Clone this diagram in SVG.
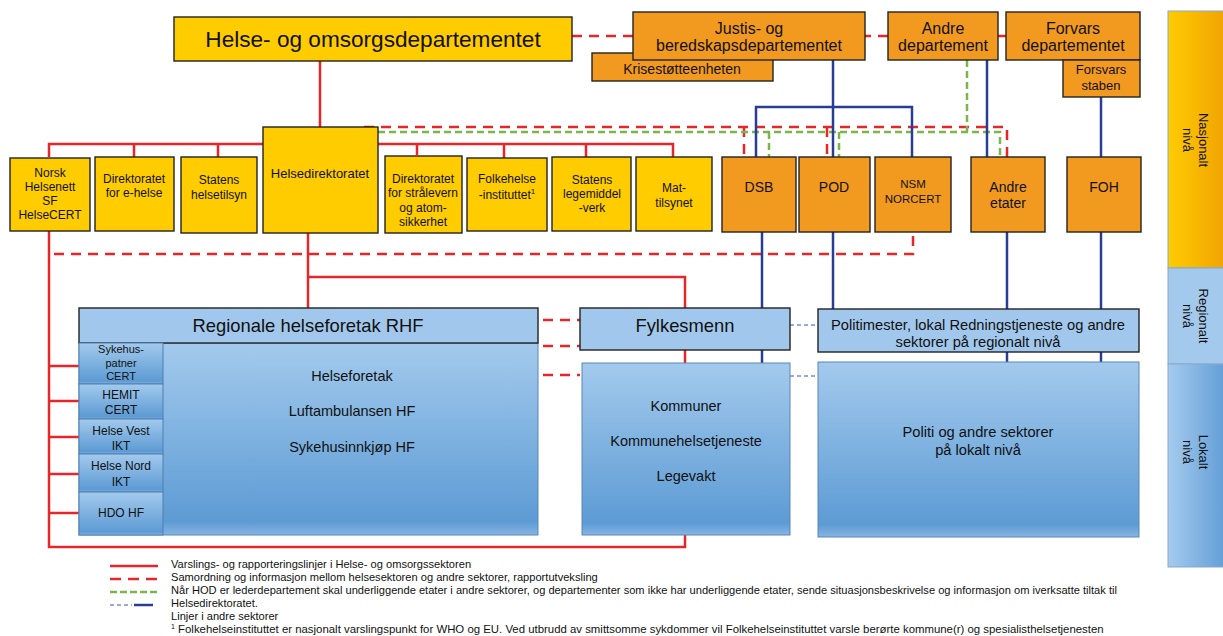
<svg xmlns="http://www.w3.org/2000/svg" width="1223" height="636" viewBox="0 0 1223 636">
<defs>
<linearGradient id="gBlue" x1="0" y1="0" x2="0" y2="1">
<stop offset="0" stop-color="#a3caed"/><stop offset="0.93" stop-color="#5d9bd4"/><stop offset="1" stop-color="#86b5e2"/>
</linearGradient>
<linearGradient id="gNas" x1="0" y1="0" x2="1" y2="0">
<stop offset="0" stop-color="#ffcc00"/><stop offset="1" stop-color="#f0a104"/>
</linearGradient>
<linearGradient id="gLok" x1="0" y1="0" x2="1" y2="0">
<stop offset="0" stop-color="#a5cbee"/><stop offset="1" stop-color="#5f9cd5"/>
</linearGradient>
<style>
text{font-family:"Liberation Sans",Arial,sans-serif;fill:#111;text-anchor:middle;dominant-baseline:central}
.y{fill:#ffcc00;stroke:#222;stroke-width:1.4}
.o{fill:#f29a1f;stroke:#222;stroke-width:1.4}
.lb{fill:#a1c8ec;stroke:#222;stroke-width:1.4}
.gb{fill:url(#gBlue);stroke:#5a86b6;stroke-width:1}
.sub{fill:url(#gBlue);stroke:#4f7fb0;stroke-width:1}
.r{stroke:#e8262a;stroke-width:2.5;fill:none}
.rd{stroke:#e8262a;stroke-width:2.5;fill:none;stroke-dasharray:10 7}
.gd{stroke:#7ab648;stroke-width:2.5;fill:none;stroke-dasharray:7 4}
.b{stroke:#283d96;stroke-width:2.5;fill:none}
.bd{stroke:#3b56a8;stroke-width:1;fill:none;stroke-dasharray:4 3}
.f12{font-size:12px}.f13{font-size:13px}.f14{font-size:14px}.f15{font-size:15px}.f16{font-size:16px}
.fb{font-size:14.5px}.fp{font-size:14.7px}
.lg{font-size:11.1px;text-anchor:start}
</style>
</defs>
<rect width="1223" height="636" fill="#fff"/>

<g id="connectors">
<line class="rd" x1="572" y1="36" x2="1006" y2="36"/>
<line class="r" x1="320" y1="60" x2="320" y2="127"/>
<polyline class="r" points="49,157 49,144 263,144"/>
<line class="r" x1="134" y1="144" x2="134" y2="157"/>
<line class="r" x1="218" y1="144" x2="218" y2="157"/>
<polyline class="r" points="378,144 673,144 673,157"/>
<line class="r" x1="417" y1="144" x2="417" y2="155"/>
<line class="r" x1="504" y1="144" x2="504" y2="158"/>
<line class="r" x1="586" y1="144" x2="586" y2="157"/>
<polyline class="rd" points="364,127 1007,127 1007,157"/>
<line class="rd" x1="744" y1="127" x2="744" y2="157"/>
<line class="rd" x1="827" y1="127" x2="827" y2="157"/>
<polyline class="gd" points="378,132 1000,132 1000,157"/>
<line class="gd" x1="967" y1="60" x2="967" y2="132"/>
<line class="gd" x1="769" y1="132" x2="769" y2="157"/>
<line class="gd" x1="839" y1="132" x2="839" y2="157"/>
<line class="b" x1="833" y1="60" x2="833" y2="157"/>
<polyline class="b" points="756,157 756,107 912,107 912,157"/>
<line class="b" x1="987" y1="60" x2="987" y2="157"/>
<line class="b" x1="1101" y1="97" x2="1101" y2="157"/>
<polyline class="rd" points="54,254 913,254 913,232"/>
<line class="r" x1="308" y1="233" x2="308" y2="308"/>
<polyline class="r" points="308,277 685,277 685,308"/>
<line class="r" x1="685" y1="350" x2="685" y2="363"/>
<polyline class="r" points="49,231 49,547 685,547 685,535"/>
<line class="r" x1="49" y1="366" x2="79" y2="366"/>
<line class="r" x1="49" y1="401" x2="79" y2="401"/>
<line class="r" x1="49" y1="437" x2="79" y2="437"/>
<line class="r" x1="49" y1="474" x2="79" y2="474"/>
<line class="r" x1="49" y1="513" x2="79" y2="513"/>
<line class="b" x1="762" y1="232" x2="762" y2="308"/>
<line class="b" x1="762" y1="350" x2="762" y2="363"/>
<line class="b" x1="833" y1="232" x2="833" y2="309"/>
<line class="b" x1="1007" y1="232" x2="1007" y2="309"/>
<line class="b" x1="1007" y1="352" x2="1007" y2="362"/>
<line class="b" x1="1101" y1="232" x2="1101" y2="309"/>
<line class="b" x1="1101" y1="352" x2="1101" y2="362"/>
<line class="rd" x1="543" y1="320" x2="580" y2="320"/>
<line class="rd" x1="543" y1="346" x2="580" y2="346"/>
<line class="rd" x1="543" y1="375" x2="580" y2="375"/>
<line class="bd" x1="790" y1="325" x2="818" y2="325"/>
<line class="bd" x1="790" y1="376" x2="818" y2="376"/>
</g>

<g id="hod"><rect class="y" x="174" y="17" width="398" height="44"/><text x="373" y="39" style="font-size:22.6px">Helse- og omsorgsdepartementet</text></g>
<g id="krise"><rect class="o" x="592" y="53" width="181" height="28"/><text class="f14" x="682" y="69">Krisestøtteenheten</text></g>
<g id="justis"><rect class="o" x="633" y="12" width="232" height="48"/><text class="f16" x="749" y="28">Justis- og</text><text class="f16" x="749" y="45">beredskapsdepartementet</text></g>
<g id="andredep"><rect class="o" x="888" y="12" width="110" height="48"/><text class="f16" x="943" y="28">Andre</text><text class="f16" x="943" y="45">departement</text></g>
<g id="forsvarsdep"><rect class="o" x="1006" y="12" width="134" height="48"/><text class="f16" x="1073" y="28">Forvars</text><text class="f16" x="1073" y="45">departementet</text></g>
<g id="forsvarsstaben"><rect class="o" x="1063" y="60" width="77" height="37"/><text class="f13" x="1101" y="69">Forsvars</text><text class="f13" x="1101" y="85">staben</text></g>

<g id="nhn"><rect class="y" x="10" y="158" width="80" height="73"/><text class="f12" x="50" y="173">Norsk</text><text class="f12" x="50" y="187">Helsenett</text><text class="f12" x="50" y="201">SF</text><text class="f12" x="50" y="215">HelseCERT</text></g>
<g id="ehelse"><rect class="y" x="95" y="157" width="79" height="74"/><text class="f12" x="134" y="179">Direktoratet</text><text class="f12" x="134" y="193">for e-helse</text></g>
<g id="helsetilsyn"><rect class="y" x="181" y="157" width="76" height="76"/><text class="f12" x="219" y="180">Statens</text><text class="f12" x="219" y="195">helsetilsyn</text></g>
<g id="helsedir"><rect class="y" x="263" y="127" width="115" height="106"/><text class="f13" x="320" y="173">Helsedirektoratet</text></g>
<g id="straalevern"><rect class="y" x="385" y="156" width="77" height="77"/><text class="f12" x="423" y="179">Direktoratet</text><text class="f12" x="423" y="193">for strålevern</text><text class="f12" x="423" y="208">og atom-</text><text class="f12" x="423" y="222">sikkerhet</text></g>
<g id="fhi"><rect class="y" x="467" y="158" width="80" height="73"/><text class="f12" x="507" y="179">Folkehelse</text><text class="f12" x="507" y="195">-instituttet<tspan dy="-4" style="font-size:8px">1</tspan></text></g>
<g id="slv"><rect class="y" x="552" y="157" width="79" height="74"/><text class="f12" x="592" y="180">Statens</text><text class="f12" x="592" y="194">legemiddel</text><text class="f12" x="592" y="208">-verk</text></g>
<g id="mattilsynet"><rect class="y" x="636" y="157" width="76" height="74"/><text class="f12" x="674" y="188">Mat-</text><text class="f12" x="674" y="203">tilsynet</text></g>
<g id="dsb"><rect class="o" x="722" y="157" width="74" height="75"/><text class="f14" x="759" y="187">DSB</text></g>
<g id="pod"><rect class="o" x="799" y="157" width="71" height="75"/><text class="f14" x="834" y="187">POD</text></g>
<g id="nsm"><rect class="o" x="875" y="157" width="76" height="75"/><text x="913" y="184" style="font-size:11.5px">NSM</text><text x="913" y="199" style="font-size:11.5px">NORCERT</text></g>
<g id="andreetater"><rect class="o" x="971" y="157" width="74" height="75"/><text class="f14" x="1008" y="187">Andre</text><text class="f14" x="1008" y="203">etater</text></g>
<g id="foh"><rect class="o" x="1067" y="157" width="74" height="75"/><text class="f14" x="1104" y="187">FOH</text></g>

<g id="rhf">
<rect class="gb" x="79" y="343" width="459" height="192"/>
<rect class="lb" x="79" y="308" width="459" height="35"/>
<text x="308" y="325" style="font-size:18.4px">Regionale helseforetak RHF</text>
<text class="fb" x="352" y="376">Helseforetak</text>
<text class="fb" x="352" y="411">Luftambulansen HF</text>
<text class="fb" x="352" y="447">Sykehusinnkjøp HF</text>
</g>
<g id="sykehuspartner"><rect class="sub" x="79" y="343" width="84" height="41"/><text x="121" y="349" style="font-size:11px">Sykehus-</text><text x="121" y="363" style="font-size:11px">patner</text><text x="121" y="376" style="font-size:11px">CERT</text></g>
<g id="hemit"><rect class="sub" x="79" y="384" width="84" height="35"/><text class="f12" x="121" y="395">HEMIT</text><text class="f12" x="121" y="410">CERT</text></g>
<g id="helsevest"><rect class="sub" x="79" y="419" width="84" height="35"/><text class="f12" x="121" y="431">Helse Vest</text><text class="f12" x="121" y="446">IKT</text></g>
<g id="helsenord"><rect class="sub" x="79" y="454" width="84" height="38"/><text class="f12" x="121" y="466">Helse Nord</text><text class="f12" x="121" y="482">IKT</text></g>
<g id="hdo"><rect class="sub" x="79" y="492" width="84" height="43"/><text class="f12" x="121" y="513">HDO HF</text></g>

<g id="fylkesmenn"><rect class="lb" x="580" y="308" width="210" height="42"/><text x="685" y="325" style="font-size:18.4px">Fylkesmenn</text></g>
<g id="kommuner"><rect class="gb" x="582" y="363" width="208" height="172"/><text class="fb" x="686" y="406">Kommuner</text><text class="fb" x="686" y="441">Kommunehelsetjeneste</text><text class="fb" x="686" y="476">Legevakt</text></g>
<g id="politimester"><rect class="lb" x="818" y="309" width="321" height="43"/><text class="fp" x="978" y="325">Politimester, lokal Redningstjeneste og andre</text><text class="fp" x="978" y="342">sektorer på regionalt nivå</text></g>
<g id="politi"><rect class="gb" x="818" y="362" width="321" height="175"/><text class="fp" x="978" y="432">Politi og andre sektorer</text><text class="fp" x="978" y="450">på lokalt nivå</text></g>

<g id="levels">
<rect x="1168" y="11" width="60" height="257" fill="url(#gNas)" stroke="#8aa9c9" stroke-width="1"/>
<rect x="1168" y="268" width="60" height="96" fill="#a3c9ec" stroke="#8aa9c9" stroke-width="1"/>
<rect x="1168" y="364" width="60" height="203" fill="url(#gLok)" stroke="#8aa9c9" stroke-width="1"/>
<text class="f13" transform="translate(1196,140) rotate(90)"><tspan x="0" y="-8">Nasjonalt</tspan><tspan x="0" y="8">nivå</tspan></text>
<text class="f13" transform="translate(1196,316) rotate(90)"><tspan x="0" y="-8">Regionalt</tspan><tspan x="0" y="8">nivå</tspan></text>
<text class="f13" transform="translate(1196,452) rotate(90)"><tspan x="0" y="-8">Lokalt</tspan><tspan x="0" y="8">nivå</tspan></text>
</g>

<g id="legend">
<line class="r" x1="110" y1="566" x2="158" y2="566"/>
<line stroke="#e8262a" stroke-width="2.5" stroke-dasharray="11 7" x1="110" y1="579" x2="158" y2="579"/>
<line stroke="#7ab648" stroke-width="2.5" stroke-dasharray="7 3" x1="110" y1="592" x2="158" y2="592"/>
<line class="bd" x1="110" y1="605" x2="132" y2="605"/>
<line class="b" x1="134" y1="605" x2="153" y2="605"/>
<text class="lg" x="171" y="564">Varslings- og rapporteringslinjer i Helse- og omsorgssektoren</text>
<text class="lg" x="171" y="577">Samordning og informasjon mellom helsesektoren og andre sektorer, rapportutveksling</text>
<text class="lg" x="171" y="590">Når HOD er lederdepartement skal underliggende etater i andre sektorer, og departementer som ikke har underliggende etater, sende situasjonsbeskrivelse og informasjon om iverksatte tiltak til</text>
<text class="lg" x="171" y="603">Helsedirektoratet.</text>
<text class="lg" x="171" y="616">Linjer i andre sektorer</text>
<text class="lg" x="171" y="629" style="font-size:11.4px"><tspan dy="-3" style="font-size:7px">1</tspan><tspan dy="3"> Folkehelseinstituttet er nasjonalt varslingspunkt for WHO og EU. Ved utbrudd av smittsomme sykdommer vil Folkehelseinstituttet varsle berørte kommune(r) og spesialisthelsetjenesten</tspan></text>
</g>
</svg>
